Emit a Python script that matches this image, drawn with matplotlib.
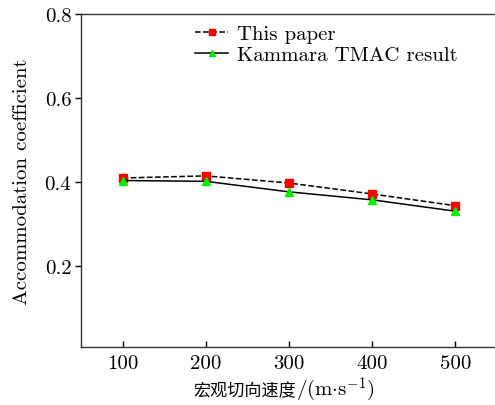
import matplotlib
matplotlib.use("Agg")
import matplotlib.pyplot as plt

# data
speed = [100, 200, 300, 400, 500]
this_paper = [0.410, 0.415, 0.398, 0.372, 0.344]
kammara = [0.404, 0.402, 0.377, 0.358, 0.331]

plt.rcParams['font.family'] = ['cmr10', 'Noto Sans CJK SC', 'DejaVu Sans']
plt.rcParams['mathtext.fontset'] = 'cm'
plt.rcParams['axes.formatter.use_mathtext'] = True
plt.rcParams['font.size'] = 15

W, H = 495, 406
fig = plt.figure(figsize=(W / 100, H / 100), dpi=100)
ax = fig.add_axes([81 / W, 1 - 348 / H, 416 / W, 333 / H])

ax.plot(speed, this_paper, color='black', linestyle='--', linewidth=1.1,
        marker='s', markersize=5.5, markerfacecolor='red', markeredgecolor='red',
        label='This paper')
ax.plot(speed, kammara, color='black', linestyle='-', linewidth=1.1,
        marker='^', markersize=6, markerfacecolor='#00ee00', markeredgecolor='#00ee00',
        label='Kammara TMAC result')

ax.set_xlim(50, 550)
ax.set_ylim(0.008, 0.8)
ax.set_xticks(speed)
ax.set_yticks([0.2, 0.4, 0.6, 0.8])
ax.set_xticklabels([str(v) for v in speed])
ax.set_yticklabels(['0.2', '0.4', '0.6', '0.8'])
ax.tick_params(axis='x', direction='in', length=4, width=1, pad=5)
ax.tick_params(axis='y', direction='out', length=4, width=1, pad=3)

ax.set_ylabel('Accommodation coefficient', labelpad=10)

for s in ax.spines.values():
    s.set_linewidth(1.0)
    s.set_color('#333333')

ax.legend(loc='upper left', bbox_to_anchor=(0.24, 1.012), frameon=False,
          handlelength=1.55, handletextpad=0.45, labelspacing=0.1, borderaxespad=0.3,
          markerscale=0.8)

# x label: Chinese part in a CJK font, unit part in mathtext
base_y = 1 - 396 / H
t1 = fig.text(193 / W, base_y, '宏观切向速度', family='Noto Sans CJK SC',
              fontsize=12.3, va='baseline', ha='left')
fig.canvas.draw()
bb = t1.get_window_extent()
fig.text(bb.x1 / W, base_y, r'/(m$\cdot$s$^{-1}$)', va='baseline', ha='left')

fig.savefig('out.png', dpi=100)
